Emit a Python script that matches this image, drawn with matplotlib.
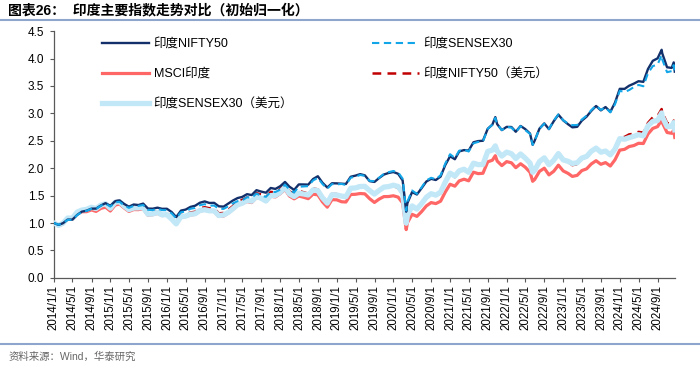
import matplotlib
matplotlib.use("Agg")
import matplotlib.pyplot as plt
from matplotlib.lines import Line2D
import pandas as pd

plt.rcParams['font.family'] = ['Liberation Sans', 'Noto Sans CJK SC', 'DejaVu Sans']

dates = (
    "2014-01-01 "
    "2014-01-31 2014-02-28 2014-03-31 2014-04-30 2014-05-31 2014-06-30 2014-07-31 2014-08-31 2014-09-30 2014-10-31 2014-11-30 2014-12-31 "
    "2015-01-31 2015-02-28 2015-03-31 2015-04-30 2015-05-31 2015-06-30 2015-07-31 2015-08-31 2015-09-30 2015-10-31 2015-11-30 2015-12-31 "
    "2016-01-31 2016-02-29 2016-03-31 2016-04-30 2016-05-31 2016-06-30 2016-07-31 2016-08-31 2016-09-30 2016-10-31 2016-11-30 2016-12-31 "
    "2017-01-31 2017-02-28 2017-03-31 2017-04-30 2017-05-31 2017-06-30 2017-07-31 2017-08-31 2017-09-30 2017-10-31 2017-11-30 2017-12-31 "
    "2018-01-31 2018-02-28 2018-03-31 2018-04-30 2018-05-31 2018-06-30 2018-07-31 2018-08-31 2018-09-30 2018-10-31 2018-11-30 2018-12-31 "
    "2019-01-31 2019-02-28 2019-03-31 2019-04-30 2019-05-31 2019-06-30 2019-07-31 2019-08-31 2019-09-30 2019-10-31 2019-11-30 2019-12-31 "
    "2020-01-31 2020-02-29 2020-03-23 2020-03-31 2020-04-30 2020-05-31 2020-06-30 2020-07-31 2020-08-31 2020-09-30 2020-10-31 2020-11-30 2020-12-31 "
    "2021-01-31 2021-02-28 2021-03-31 2021-04-30 2021-05-31 2021-06-30 2021-07-31 2021-08-31 2021-09-30 2021-10-19 2021-10-31 2021-11-30 2021-12-31 "
    "2022-01-31 2022-02-28 2022-03-31 2022-04-30 2022-05-31 2022-06-17 2022-06-30 2022-07-31 2022-08-31 2022-09-30 2022-10-31 2022-11-30 2022-12-31 "
    "2023-01-31 2023-02-28 2023-03-31 2023-04-30 2023-05-31 2023-06-30 2023-07-31 2023-08-31 2023-09-30 2023-10-31 2023-11-30 2023-12-31 "
    "2024-01-31 2024-02-29 2024-03-31 2024-04-30 2024-05-31 2024-06-30 2024-07-31 2024-08-31 2024-09-26 2024-09-30 2024-10-31 2024-11-30 2024-12-13 2024-12-20"
).split()

nifty50 = [1.000,
    0.966, 0.996, 1.063, 1.062, 1.147, 1.207, 1.225, 1.262, 1.263, 1.320, 1.362, 1.314,
    1.397, 1.412, 1.347, 1.298, 1.338, 1.328, 1.354, 1.264, 1.261, 1.280, 1.259, 1.260,
    1.200, 1.108, 1.227, 1.245, 1.294, 1.315, 1.370, 1.394, 1.366, 1.368, 1.305, 1.299,
    1.358, 1.409, 1.455, 1.476, 1.526, 1.510, 1.599, 1.573, 1.553, 1.639, 1.622, 1.671,
    1.749, 1.664, 1.604, 1.704, 1.703, 1.700, 1.802, 1.853, 1.734, 1.648, 1.725, 1.723,
    1.718, 1.712, 1.844, 1.864, 1.891, 1.870, 1.764, 1.749, 1.820, 1.884, 1.912, 1.930,
    1.898, 1.777, 1.207, 1.364, 1.564, 1.520, 1.634, 1.757, 1.806, 1.784, 1.847, 2.057, 2.218,
    2.163, 2.305, 2.330, 2.321, 2.472, 2.494, 2.500, 2.718, 2.795, 2.931, 2.803, 2.694, 2.753,
    2.751, 2.664, 2.770, 2.713, 2.631, 2.426, 2.503, 2.722, 2.817, 2.712, 2.857, 2.976, 2.872,
    2.802, 2.745, 2.754, 2.866, 2.940, 3.044, 3.134, 3.054, 3.115, 3.027, 3.194, 3.447,
    3.446, 3.503, 3.542, 3.586, 3.574, 3.809, 3.958, 4.003, 4.159, 4.094, 3.840, 3.828, 3.929, 3.760]

sensex30 = [1.000,
    0.969, 0.998, 1.057, 1.059, 1.144, 1.200, 1.223, 1.258, 1.258, 1.316, 1.355, 1.299,
    1.378, 1.387, 1.321, 1.276, 1.314, 1.312, 1.328, 1.241, 1.235, 1.259, 1.235, 1.234,
    1.175, 1.087, 1.197, 1.210, 1.260, 1.275, 1.325, 1.344, 1.316, 1.319, 1.259, 1.258,
    1.306, 1.358, 1.399, 1.413, 1.471, 1.461, 1.536, 1.499, 1.478, 1.569, 1.566, 1.609,
    1.699, 1.615, 1.557, 1.661, 1.668, 1.673, 1.776, 1.825, 1.711, 1.627, 1.710, 1.704,
    1.713, 1.694, 1.827, 1.844, 1.876, 1.861, 1.770, 1.763, 1.826, 1.895, 1.927, 1.949,
    1.924, 1.809, 1.227, 1.392, 1.593, 1.532, 1.649, 1.776, 1.825, 1.798, 1.871, 2.085, 2.255,
    2.186, 2.319, 2.339, 2.304, 2.453, 2.479, 2.484, 2.718, 2.793, 2.917, 2.801, 2.695, 2.752,
    2.740, 2.657, 2.766, 2.695, 2.625, 2.426, 2.504, 2.719, 2.812, 2.713, 2.869, 2.980, 2.874,
    2.813, 2.785, 2.786, 2.887, 2.958, 3.057, 3.142, 3.062, 3.109, 3.017, 3.164, 3.412,
    3.389, 3.424, 3.479, 3.518, 3.494, 3.733, 3.861, 3.890, 4.061, 3.982, 3.750, 3.770, 3.880, 3.700]

msci_india = [1.000,
    0.950, 0.984, 1.081, 1.068, 1.173, 1.206, 1.207, 1.239, 1.212, 1.267, 1.290, 1.219,
    1.327, 1.346, 1.274, 1.211, 1.246, 1.244, 1.261, 1.142, 1.152, 1.177, 1.136, 1.145,
    1.061, 0.985, 1.107, 1.117, 1.147, 1.159, 1.220, 1.234, 1.215, 1.212, 1.123, 1.128,
    1.184, 1.245, 1.320, 1.353, 1.392, 1.373, 1.467, 1.445, 1.397, 1.488, 1.476, 1.535,
    1.612, 1.493, 1.441, 1.492, 1.470, 1.444, 1.527, 1.513, 1.385, 1.289, 1.426, 1.423,
    1.388, 1.383, 1.520, 1.524, 1.538, 1.532, 1.444, 1.375, 1.436, 1.482, 1.483, 1.497,
    1.472, 1.366, 0.880, 1.006, 1.159, 1.121, 1.207, 1.312, 1.373, 1.354, 1.398, 1.564, 1.707,
    1.672, 1.768, 1.799, 1.770, 1.927, 1.901, 1.907, 2.116, 2.145, 2.228, 2.130, 2.047, 2.120,
    2.098, 2.009, 2.081, 2.018, 1.925, 1.761, 1.794, 1.942, 2.000, 1.878, 1.944, 2.055, 1.950,
    1.906, 1.850, 1.869, 1.956, 1.988, 2.077, 2.136, 2.071, 2.102, 2.040, 2.153, 2.329,
    2.344, 2.394, 2.413, 2.454, 2.450, 2.623, 2.725, 2.758, 2.879, 2.831, 2.651, 2.636, 2.696, 2.560]

nifty50_usd = [1.000,
    0.955, 0.994, 1.097, 1.090, 1.203, 1.243, 1.251, 1.291, 1.269, 1.331, 1.358, 1.285,
    1.397, 1.414, 1.334, 1.265, 1.298, 1.293, 1.308, 1.182, 1.190, 1.213, 1.170, 1.178,
    1.094, 1.003, 1.146, 1.159, 1.192, 1.206, 1.271, 1.288, 1.270, 1.268, 1.177, 1.184,
    1.244, 1.308, 1.388, 1.423, 1.465, 1.445, 1.544, 1.521, 1.472, 1.568, 1.557, 1.619,
    1.702, 1.580, 1.527, 1.584, 1.562, 1.536, 1.628, 1.615, 1.480, 1.380, 1.530, 1.528,
    1.496, 1.495, 1.649, 1.658, 1.679, 1.678, 1.587, 1.516, 1.589, 1.645, 1.651, 1.673,
    1.643, 1.523, 0.980, 1.120, 1.289, 1.245, 1.340, 1.454, 1.519, 1.496, 1.543, 1.723, 1.878,
    1.837, 1.941, 1.973, 1.939, 2.108, 2.078, 2.080, 2.305, 2.332, 2.419, 2.313, 2.220, 2.294,
    2.273, 2.181, 2.262, 2.198, 2.099, 1.925, 1.961, 2.125, 2.193, 2.062, 2.136, 2.263, 2.150,
    2.118, 2.055, 2.074, 2.169, 2.201, 2.298, 2.360, 2.286, 2.318, 2.249, 2.371, 2.565,
    2.570, 2.616, 2.629, 2.662, 2.649, 2.827, 2.927, 2.953, 3.079, 3.024, 2.826, 2.804, 2.868, 2.745]

sensex30_usd = [1.000,
    0.958, 0.996, 1.091, 1.087, 1.200, 1.236, 1.249, 1.287, 1.264, 1.327, 1.351, 1.270,
    1.378, 1.389, 1.308, 1.244, 1.275, 1.277, 1.282, 1.160, 1.165, 1.193, 1.148, 1.154,
    1.071, 0.984, 1.118, 1.126, 1.161, 1.169, 1.230, 1.242, 1.223, 1.222, 1.136, 1.147,
    1.196, 1.260, 1.334, 1.362, 1.412, 1.398, 1.483, 1.450, 1.401, 1.501, 1.503, 1.559,
    1.654, 1.533, 1.483, 1.544, 1.530, 1.512, 1.605, 1.591, 1.461, 1.363, 1.516, 1.511,
    1.491, 1.479, 1.634, 1.640, 1.666, 1.669, 1.592, 1.528, 1.594, 1.655, 1.664, 1.690,
    1.666, 1.551, 0.997, 1.143, 1.313, 1.254, 1.352, 1.470, 1.535, 1.508, 1.563, 1.746, 1.910,
    1.856, 1.953, 1.981, 1.925, 2.091, 2.065, 2.067, 2.305, 2.330, 2.407, 2.312, 2.221, 2.293,
    2.264, 2.176, 2.259, 2.183, 2.094, 1.925, 1.962, 2.122, 2.189, 2.063, 2.145, 2.266, 2.151,
    2.126, 2.085, 2.098, 2.185, 2.214, 2.308, 2.366, 2.292, 2.313, 2.242, 2.348, 2.539,
    2.528, 2.557, 2.582, 2.611, 2.590, 2.771, 2.855, 2.870, 3.007, 2.942, 2.760, 2.762, 2.832, 2.700]

tick_labels = ["2014/1/1", "2014/5/1", "2014/9/1", "2015/1/1", "2015/5/1", "2015/9/1",
               "2016/1/1", "2016/5/1", "2016/9/1", "2017/1/1", "2017/5/1", "2017/9/1",
               "2018/1/1", "2018/5/1", "2018/9/1", "2019/1/1", "2019/5/1", "2019/9/1",
               "2020/1/1", "2020/5/1", "2020/9/1", "2021/1/1", "2021/5/1", "2021/9/1",
               "2022/1/1", "2022/5/1", "2022/9/1", "2023/1/1", "2023/5/1", "2023/9/1",
               "2024/1/1", "2024/5/1", "2024/9/1"]

series_labels = ["印度NIFTY50", "印度SENSEX30", "MSCI印度", "印度NIFTY50（美元）", "印度SENSEX30（美元）"]

x = pd.to_datetime(dates)
tick_pos = pd.to_datetime(tick_labels, format="%Y/%m/%d")

fig = plt.figure(figsize=(7.0, 3.7), dpi=100)
ax = fig.add_axes([0.077, 0.249, 0.887, 0.667])

l1, = ax.plot(x, nifty50, color='#13306B', lw=1.7, zorder=3, label=series_labels[0])
l2, = ax.plot(x, sensex30, color='#12A6E8', lw=1.5, ls=(0, (3.5, 2.2)), zorder=4, label=series_labels[1])
l3, = ax.plot(x, msci_india, color='#FF6666', lw=2.3, zorder=2, label=series_labels[2])
l4, = ax.plot(x, nifty50_usd, color='#C00000', lw=1.8, ls=(0, (3.5, 2.5)), zorder=2.5, label=series_labels[3])
l5, = ax.plot(x, sensex30_usd, color='#C2E8F8', lw=3.8, zorder=2.7, label=series_labels[4])

ax.set_ylim(0, 4.5)
ax.set_yticks([i * 0.5 for i in range(10)])
ax.yaxis.set_major_formatter(matplotlib.ticker.FormatStrFormatter('%.1f'))
ax.set_xlim(pd.Timestamp("2014-01-01"), pd.Timestamp("2024-12-20"))
ax.set_xticks(tick_pos)
ax.set_xticklabels(tick_labels, rotation=90, fontsize=8.3)
ax.tick_params(axis='y', labelsize=8.5, length=3, width=0.8, color='#595959', pad=4)
ax.tick_params(axis='x', length=3, width=0.8, color='#595959', pad=2)
for s in ['top', 'right']:
    ax.spines[s].set_visible(False)
for s in ['left', 'bottom']:
    ax.spines[s].set_color('#595959')
    ax.spines[s].set_linewidth(0.9)

handles = [l1, l3, l5, l2, l4]
leg = ax.legend(handles=handles, labels=[h.get_label() for h in handles], ncol=2,
                loc='upper left', bbox_to_anchor=(0.077, 0.972), frameon=False,
                fontsize=9, handlelength=3.75, handletextpad=0.4,
                labelspacing=1.45, columnspacing=6.3, borderpad=0, borderaxespad=0)

fig.text(0.012, 0.972, "图表26：  印度主要指数走势对比（初始归一化）", fontsize=10,
         fontweight='bold', va='center', ha='left', color='#000000')
fig.add_artist(Line2D([0.0, 1.0], [0.945, 0.945], color='#8EA6CB', lw=1.5, transform=fig.transFigure))
fig.add_artist(Line2D([0.0, 1.0], [0.07, 0.07], color='#8EA6CB', lw=1.5, transform=fig.transFigure))
fig.text(0.012, 0.035, "资料来源：Wind，华泰研究", fontsize=7.5, va='center', ha='left', color='#666666')

fig.savefig("out.png", dpi=100)
